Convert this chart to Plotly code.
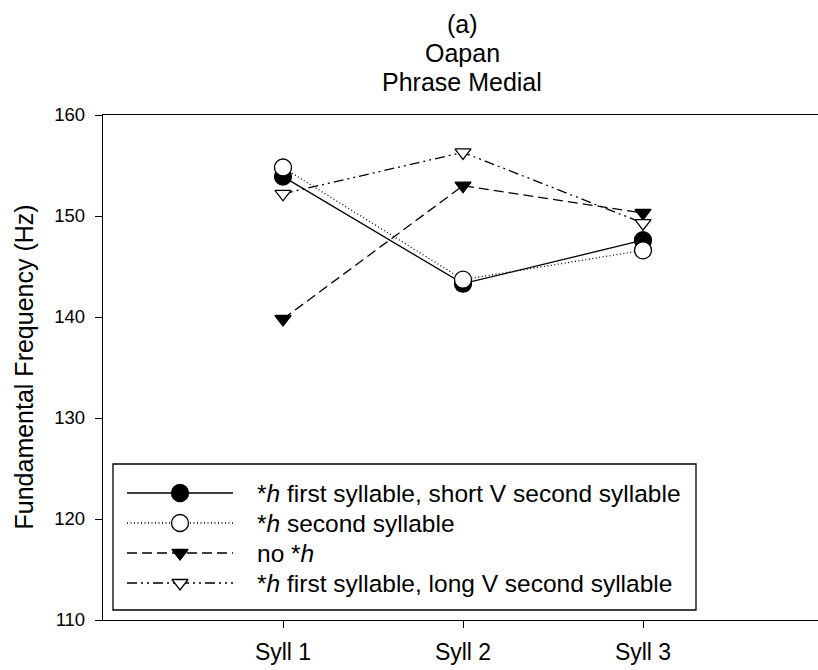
import plotly.graph_objects as go

# Syllable positions and labels
syll_pos = [1, 2, 3]
syll_labels = ["Syll 1", "Syll 2", "Syll 3"]
f0_ticks = [110, 120, 130, 140, 150, 160]

# Mean F0 (Hz) per condition
f0_h1_shortv = [153.9, 143.3, 147.6]
f0_h2 = [154.8, 143.7, 146.6]
f0_noh = [139.8, 153.0, 150.3]
f0_h1_longv = [152.2, 156.3, 149.3]

series_names = [
    "*<i>h</i> first syllable, short V second syllable",
    "*<i>h</i> second syllable",
    "no *<i>h</i>",
    "*<i>h</i> first syllable, long V second syllable",
]
title_lines = ["(a)", "Oapan", "Phrase Medial"]

FONT = "Liberation Sans, Arial, sans-serif"

styles = [
    dict(dash="solid", symbol="circle", fill="black"),
    dict(dash="1px,2.5px", symbol="circle", fill="white"),
    dict(dash="10px,5px", symbol="triangle-down", fill="black"),
    dict(dash="10px,4px,2px,4px,2px,4px", symbol="triangle-down", fill="white"),
]
values = [f0_h1_shortv, f0_h2, f0_noh, f0_h1_longv]


def marker_for(st):
    size = 17 if st["symbol"] == "circle" else 14
    return dict(symbol=st["symbol"], size=size, color=st["fill"],
                line=dict(color="black", width=1.3))


fig = go.Figure()

for vals, st, name in zip(values, styles, series_names):
    fig.add_trace(go.Scatter(
        x=syll_pos, y=vals, mode="lines+markers", name=name,
        line=dict(color="black", width=1.3, dash=st["dash"]),
        marker=marker_for(st), showlegend=False, cliponaxis=False,
    ))

# Plot area in page pixels
PX_L, PX_R, PX_T, PX_B = 103, 818, 115, 620


def px_x(px):
    return (px - PX_L) / (PX_R - PX_L)


def px_y(py):
    return (PX_B - py) / (PX_B - PX_T)


# Hand-drawn legend box (overlay axes measured in page pixels)
row_y = [493, 523, 553, 583]
for yy, st, name in zip(row_y, styles, series_names):
    fig.add_trace(go.Scatter(
        x=[127, 180, 233], y=[yy, yy, yy], mode="lines",
        line=dict(color="black", width=1.3, dash=st["dash"]),
        xaxis="x2", yaxis="y2", showlegend=False, hoverinfo="skip",
    ))
    fig.add_trace(go.Scatter(
        x=[180], y=[yy], mode="markers", marker=marker_for(st),
        xaxis="x2", yaxis="y2", showlegend=False, hoverinfo="skip",
    ))
    fig.add_annotation(
        x=px_x(255), y=px_y(yy), xref="paper", yref="paper", text=name,
        showarrow=False, xanchor="left", yanchor="middle",
        font=dict(family=FONT, size=24.5, color="black"),
    )

fig.add_shape(type="rect", x0=113, x1=696, y0=464, y1=610,
              xref="x2", yref="y2", line=dict(color="black", width=1.3),
              fillcolor="rgba(0,0,0,0)", layer="below")

# Three-line title
for i, line in enumerate(title_lines):
    fig.add_annotation(
        x=px_x(462), y=px_y(24 + 29 * i), xref="paper", yref="paper",
        text=line, showarrow=False, xanchor="center", yanchor="middle",
        font=dict(family=FONT, size=25, color="black"),
    )

# Y axis title
fig.add_annotation(
    x=px_x(23), y=0.5, xref="paper", yref="paper",
    text="Fundamental Frequency (Hz)", showarrow=False, textangle=-90,
    xanchor="center", yanchor="middle",
    font=dict(family=FONT, size=25, color="black"),
)

fig.update_layout(
    width=818, height=670,
    margin=dict(l=PX_L, r=0, t=PX_T, b=670 - PX_B),
    paper_bgcolor="white", plot_bgcolor="white",
    font=dict(family=FONT, size=18, color="black"),
    xaxis=dict(
        range=[0, (PX_R - PX_L) / 180.0],
        tickvals=syll_pos, ticktext=syll_labels,
        showgrid=False, zeroline=False,
        showline=True, linecolor="black", linewidth=1.3, mirror=True,
        ticks="outside", ticklen=7, tickcolor="black", tickwidth=1.2,
        tickfont=dict(size=23), ticklabelstandoff=4,
    ),
    yaxis=dict(
        range=[110, 160], tickvals=f0_ticks,
        showgrid=False, zeroline=False,
        showline=True, linecolor="black", linewidth=1.3,
        ticks="outside", ticklen=7, tickcolor="black", tickwidth=1.2,
        tickfont=dict(size=18.5), ticklabelstandoff=6,
    ),
    xaxis2=dict(range=[PX_L, PX_R], overlaying="x", visible=False, fixedrange=True),
    yaxis2=dict(range=[PX_B, PX_T], overlaying="y", visible=False, fixedrange=True),
    showlegend=False,
)

fig.write_html("out.html")
